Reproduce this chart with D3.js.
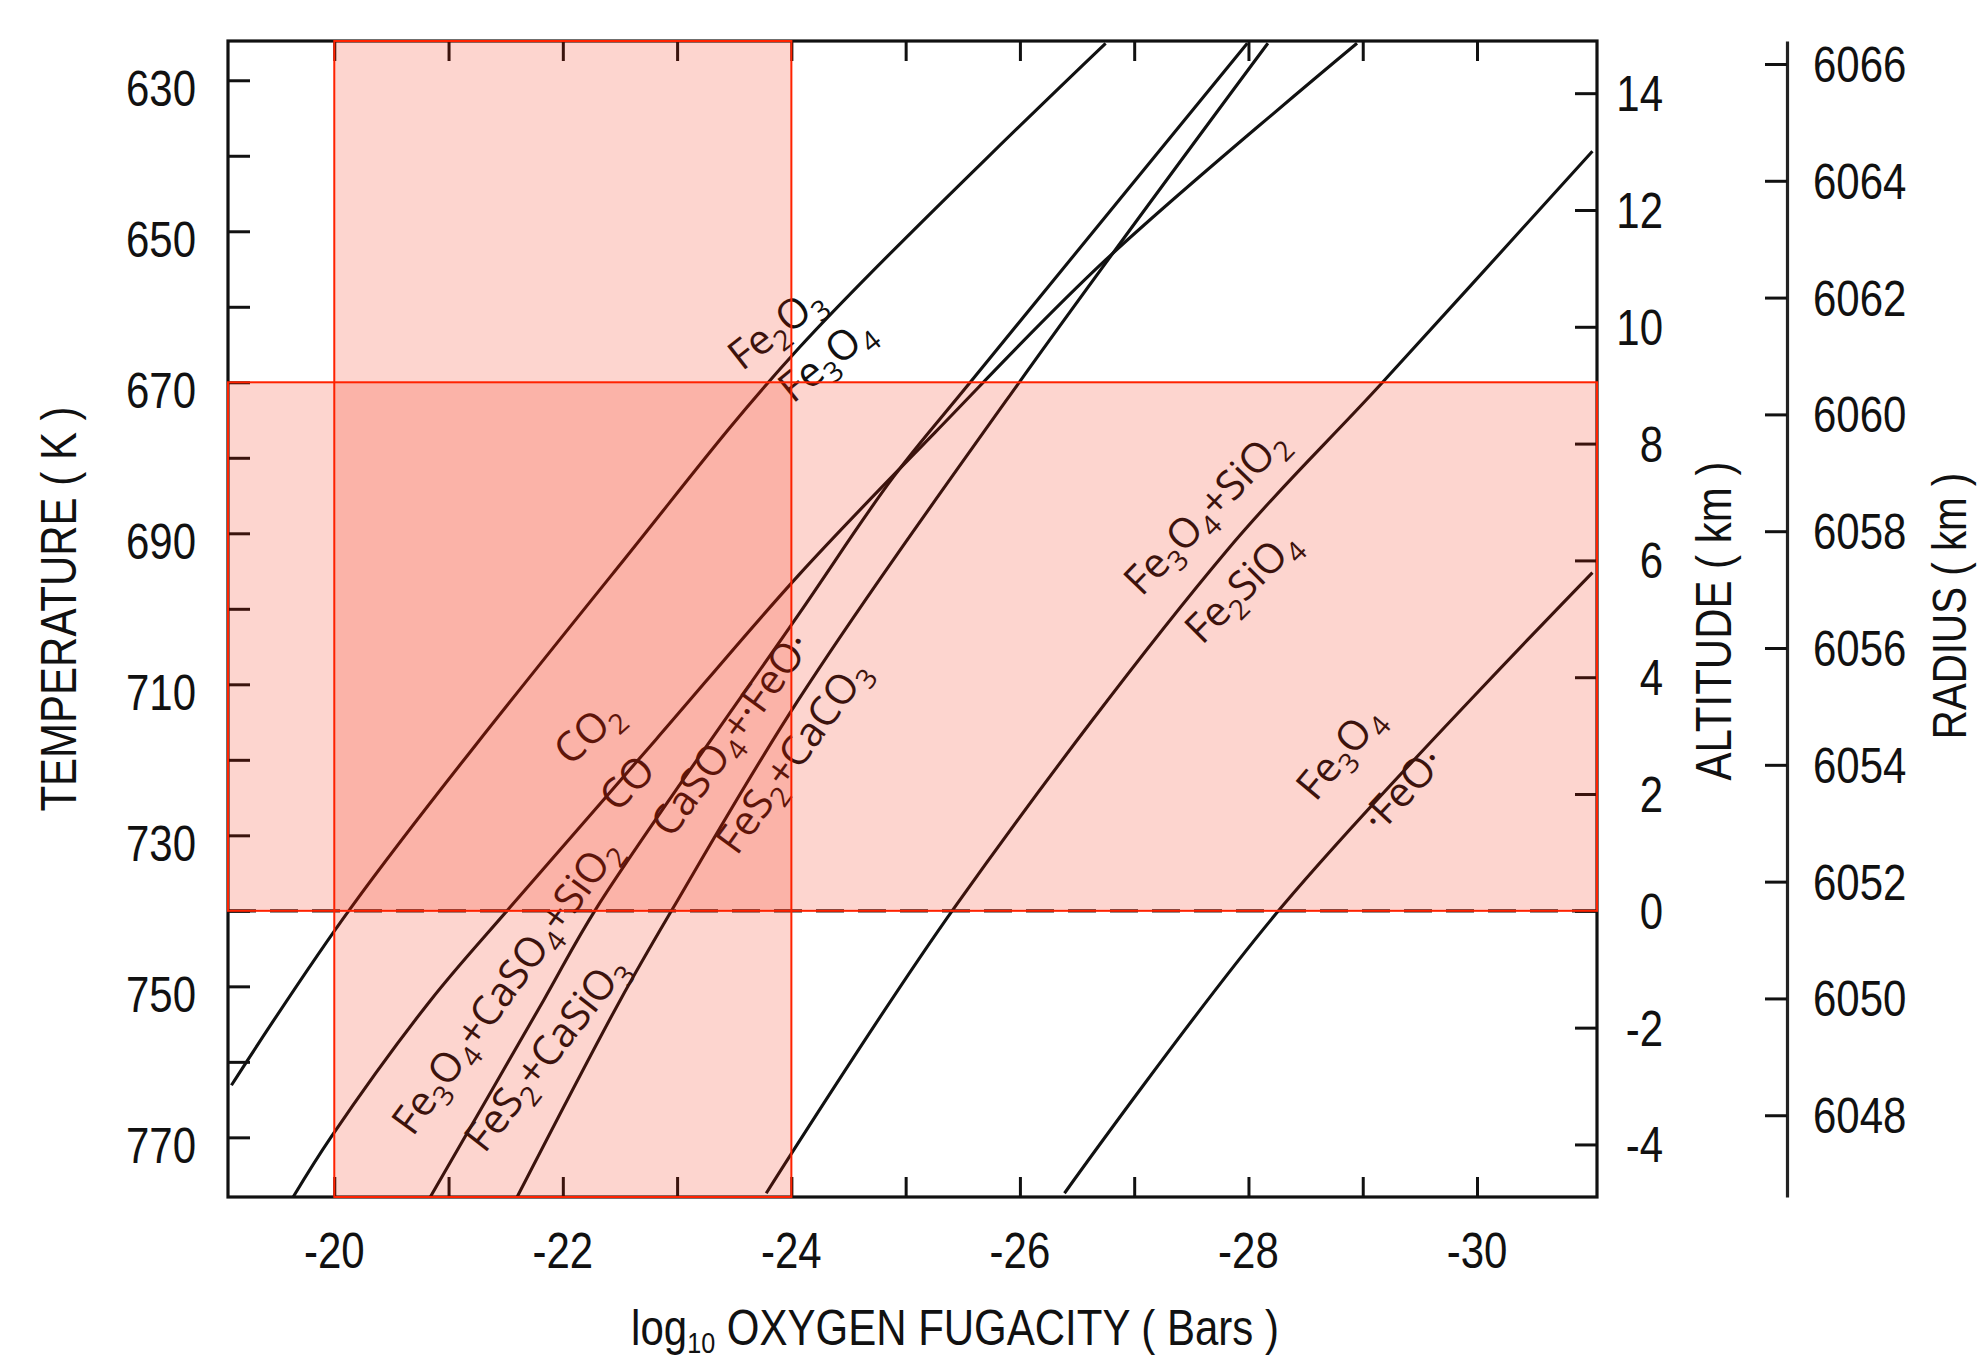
<!DOCTYPE html>
<html>
<head>
<meta charset="utf-8">
<script src="https://cdn.jsdelivr.net/npm/d3@7"></script>
<style>
  html, body { margin: 0; padding: 0; background: #fff; }
  svg { display: block; }
</style>
</head>
<body>
<svg id="chart" width="1979" height="1363"></svg>
<script>
// Buffer curves: [log10 fO2, temperature K]
const fe2o3Fe3o4 = [[-19.10, 763.1], [-20.15, 739.5], [-22.53, 693.6], [-24.07, 665.4], [-26.75, 625.1]];
const co2Co = [[-19.64, 777.9], [-19.97, 770.0], [-20.84, 751.9], [-21.54, 739.5], [-22.81, 717.4], [-24.06, 695.6], [-25.26, 676.6], [-26.75, 653.8], [-28.95, 625.1]];
const anhydriteQuartz = [[-20.84, 777.9], [-21.83, 751.9], [-22.30, 739.5], [-24.07, 700.6], [-24.89, 682.6], [-25.56, 670.1], [-27.99, 625.1]];
const anhydriteFeO = [[-21.60, 777.9], [-22.50, 751.9], [-22.97, 739.5], [-24.06, 712.1], [-25.98, 670.3], [-28.17, 625.1]];
const qfm = [[-23.78, 777.4], [-25.43, 739.5], [-27.81, 692.3], [-29.15, 670.4], [-31.01, 639.4]];
const magnetiteWustite = [[-26.39, 777.4], [-28.29, 739.5], [-31.01, 695.2]];

// axis ranges and ticks
const fo2Domain = [-19.07, -31.05];
const tempDomain = [624.8, 777.9];
const fo2Ticks = d3.range(-20, -30.5, -1);
const fo2Labels = [-20, -22, -24, -26, -28, -30];
const tempTicks = d3.range(630, 771, 10);
const tempLabels = [630, 650, 670, 690, 710, 730, 750, 770];
const altTicks = [-4, -2, 0, 2, 4, 6, 8, 10, 12, 14];
const radiusTicks = [6048, 6050, 6052, 6054, 6056, 6058, 6060, 6062, 6064, 6066];

// atmosphere: surface temperature, lapse rate (K/km), planet radius (km)
const surfaceTemp = 740;
const lapseRate = 7.735;
const venusRadius = 6051.5;

// shaded ranges
const bandFo2 = [-20, -24];
const bandTemp = [670, 740];

// reaction labels (placed in data coordinates)
const chemLabels = [
  { text: 'Fe_2O_3', fo2: -23.94, temp: 664.2, angle: -38 },
  { text: 'Fe_3O_4', fo2: -24.38, temp: 668.4, angle: -39 },
  { text: 'CO_2', fo2: -22.30, temp: 717.7, angle: -42 },
  { text: 'CO', fo2: -22.65, temp: 724.4, angle: -45 },
  { text: 'Fe_3O_4+CaSO_4+SiO_2', fo2: -21.60, temp: 751.0, angle: -54 },
  { text: 'FeS_2+CaSiO_3', fo2: -21.95, temp: 760.0, angle: -52 },
  { text: 'CaSO_4+·FeO·', fo2: -23.57, temp: 717.7, angle: -54 },
  { text: 'FeS_2+CaCO_3', fo2: -24.11, temp: 720.6, angle: -54 },
  { text: 'Fe_3O_4+SiO_2', fo2: -27.71, temp: 688.4, angle: -46 },
  { text: 'Fe_2SiO_4', fo2: -28.03, temp: 698.3, angle: -45 },
  { text: 'Fe_3O_4', fo2: -28.89, temp: 720.2, angle: -50 },
  { text: '·FeO·', fo2: -29.44, temp: 725.2, angle: -47 }
];

const svg = d3.select('#chart');
const plot = { left: 228, right: 1597, top: 41, bottom: 1197 };
const axisFont = '"Liberation Sans", Arial, sans-serif';
const squeeze = 0.84;

const x = d3.scaleLinear().domain(fo2Domain).range([plot.left, plot.right]);
const y = d3.scaleLinear().domain(tempDomain).range([plot.top, plot.bottom]);
const altOf = t => (surfaceTemp - t) / lapseRate;
const alt = d3.scaleLinear().domain(tempDomain.map(altOf)).range([plot.top, plot.bottom]);
const rad = d3.scaleLinear().domain(tempDomain.map(t => venusRadius + altOf(t))).range([plot.top, plot.bottom]);

svg.append('rect').attr('width', 1979).attr('height', 1363).attr('fill', '#fff');

svg.append('clipPath').attr('id', 'plotClip')
  .append('rect')
  .attr('x', plot.left).attr('y', plot.top)
  .attr('width', plot.right - plot.left).attr('height', plot.bottom - plot.top);

// condensed helvetica-like text
function narrowText(g, px, py, str, anchor, size, rotate) {
  return g.append('text')
    .attr('transform', `translate(${px},${py})` + (rotate ? ` rotate(${rotate})` : '') + ` scale(${squeeze},1)`)
    .attr('text-anchor', anchor)
    .attr('font-family', axisFont)
    .attr('font-size', size)
    .attr('fill', '#111')
    .text(str);
}

// 1. curves
const line = d3.line()
  .x(d => x(d[0]))
  .y(d => y(d[1]))
  .curve(d3.curveCatmullRom.alpha(0.5));

const curves = svg.append('g').attr('clip-path', 'url(#plotClip)');
[fe2o3Fe3o4, co2Co, anhydriteQuartz, anhydriteFeO, qfm, magnetiteWustite].forEach(pts => {
  curves.append('path')
    .attr('d', line(pts))
    .attr('fill', 'none')
    .attr('stroke', '#111')
    .attr('stroke-width', 3.1);
});

// surface (altitude 0)
svg.append('line')
  .attr('x1', plot.left).attr('x2', plot.right)
  .attr('y1', y(surfaceTemp)).attr('y2', y(surfaceTemp))
  .attr('stroke', '#222')
  .attr('stroke-width', 3.4)
  .attr('stroke-dasharray', '28,14');

// 2. reaction labels
const subShift = 10;
chemLabels.forEach(lab => {
  const t = svg.append('text')
    .attr('transform', `translate(${x(lab.fo2)},${y(lab.temp)}) rotate(${lab.angle})`)
    .attr('text-anchor', 'middle')
    .attr('dy', '0.35em')
    .attr('font-family', '"Open Sans", sans-serif')
    .attr('font-size', 41)
    .attr('fill', '#111');
  let down = false;
  lab.text.split(/(_\d)/).filter(s => s.length).forEach(p => {
    if (p[0] === '_') {
      t.append('tspan').attr('font-size', 28).attr('dy', subShift).text(p.slice(1));
      down = true;
    } else {
      t.append('tspan').attr('dy', down ? -subShift : 0).text(p);
      down = false;
    }
  });
});

// 3. frame and ticks
svg.append('rect')
  .attr('x', plot.left).attr('y', plot.top)
  .attr('width', plot.right - plot.left).attr('height', plot.bottom - plot.top)
  .attr('fill', 'none')
  .attr('stroke', '#111')
  .attr('stroke-width', 3.2);

function tickStyle(g) {
  g.select('.domain').remove();
  g.selectAll('.tick line').attr('stroke', '#111').attr('stroke-width', 3);
  g.selectAll('.tick text').remove();
}

svg.append('g').attr('transform', `translate(${plot.left},0)`)
  .call(d3.axisLeft(y).tickValues(tempTicks).tickSizeInner(-22).tickSizeOuter(0))
  .call(tickStyle);
svg.append('g').attr('transform', `translate(0,${plot.top})`)
  .call(d3.axisTop(x).tickValues(fo2Ticks).tickSizeInner(-20).tickSizeOuter(0))
  .call(tickStyle);
svg.append('g').attr('transform', `translate(0,${plot.bottom})`)
  .call(d3.axisBottom(x).tickValues(fo2Ticks).tickSizeInner(-20).tickSizeOuter(0))
  .call(tickStyle);
svg.append('g').attr('transform', `translate(${plot.right},0)`)
  .call(d3.axisRight(alt).tickValues(altTicks).tickSizeInner(-22).tickSizeOuter(0))
  .call(tickStyle);

// radius axis, standing apart on the right
const radiusX = 1787;
svg.append('g').attr('transform', `translate(${radiusX},0)`)
  .call(d3.axisLeft(rad).tickValues(radiusTicks).tickSizeInner(22).tickSizeOuter(0))
  .call(g => g.selectAll('.tick text').remove())
  .call(g => g.select('.domain').attr('stroke', '#222').attr('stroke-width', 3.2))
  .call(g => g.selectAll('.tick line').attr('stroke', '#111').attr('stroke-width', 3));

// 4. shaded ranges on top
const bands = svg.append('g');
bands.append('rect')
  .attr('x', x(bandFo2[0])).attr('y', plot.top)
  .attr('width', x(bandFo2[1]) - x(bandFo2[0])).attr('height', plot.bottom - plot.top);
bands.append('rect')
  .attr('x', plot.left).attr('y', y(bandTemp[0]))
  .attr('width', plot.right - plot.left).attr('height', y(bandTemp[1]) - y(bandTemp[0]));
bands.selectAll('rect')
  .attr('fill', 'rgb(245,34,2)')
  .attr('fill-opacity', 0.19)
  .attr('stroke', '#ff2200')
  .attr('stroke-width', 2);

// 5. tick labels and titles
const labels = svg.append('g');
tempLabels.forEach(t => narrowText(labels, 196, y(t) + 8, t, 'end', 50).attr('dy', '0.36em'));
fo2Labels.forEach(v => narrowText(labels, x(v), 1268, v, 'middle', 50));
altTicks.forEach(a => narrowText(labels, 1663, alt(a), a, 'end', 50).attr('dy', '0.36em'));
radiusTicks.forEach(r => narrowText(labels, 1813, rad(r), r, 'start', 50).attr('dy', '0.36em'));

narrowText(labels, 76, 609, 'TEMPERATURE ( K )', 'middle', 50, -90);
narrowText(labels, 1731, 621, 'ALTITUDE ( km )', 'middle', 50, -90);
narrowText(labels, 1966, 606, 'RADIUS ( km )', 'middle', 48, -90);

const xTitle = narrowText(labels, 955, 1345, '', 'middle', 50);
xTitle.append('tspan').text('log');
xTitle.append('tspan').attr('font-size', 30).attr('dy', 8).text('10');
xTitle.append('tspan').attr('dy', -8).text(' OXYGEN FUGACITY ( Bars )');
</script>
</body>
</html>
